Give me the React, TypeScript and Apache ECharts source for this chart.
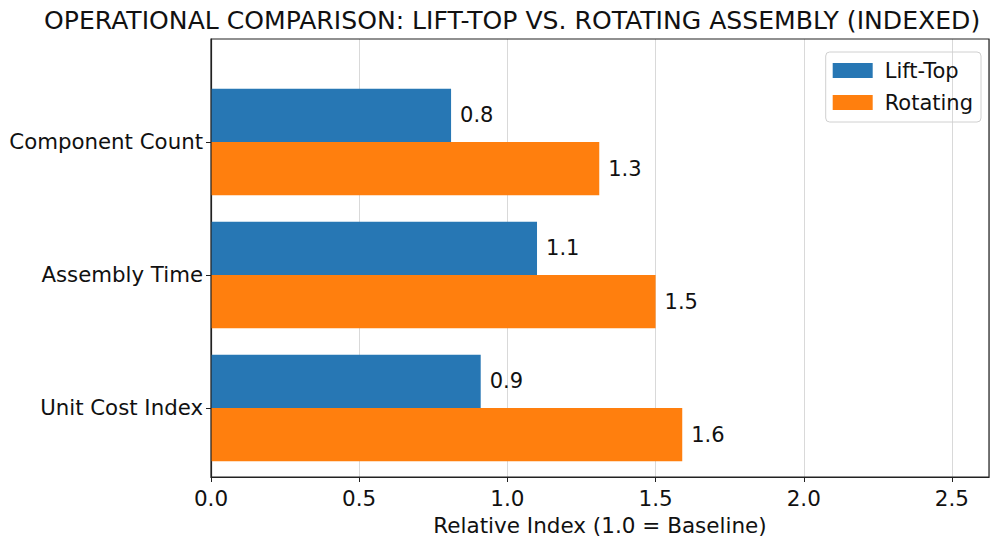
import React, { useEffect, useRef } from 'react';
import * as echarts from 'echarts';

const categories = ['Component Count', 'Assembly Time', 'Unit Cost Index'];
const seriesNames = ['Lift-Top', 'Rotating'];
const liftTop = [0.81, 1.1, 0.91];
const rotating = [1.31, 1.5, 1.59];
const xTicks = [0, 0.5, 1.0, 1.5, 2.0, 2.5];
const colors = ['#2777b4', '#ff7f0e'];

const FONT = '"DejaVu Sans", sans-serif';
const BAR_H = 0.4;
const FRAME = '#222';
const GRID = { left: 211, top: 39, right: 11, bottom: 68 };

const makeRender = (offsetIdx: number) => (params: any, api: any) => {
    const v = api.value(0);
    const i = api.value(1);
    const y0 = i - BAR_H + offsetIdx * BAR_H;
    const y1 = y0 + BAR_H;
    const a = api.coord([0, y0]);
    const b = api.coord([v, y1]);
    const top = Math.min(a[1], b[1]);
    const h = Math.abs(b[1] - a[1]);
    return {
        type: 'group',
        children: [
            {
                type: 'rect',
                shape: { x: a[0], y: top, width: b[0] - a[0], height: h },
                style: { fill: api.visual('color') },
            },
            {
                type: 'text',
                x: b[0] + 9,
                y: top + h / 2,
                style: {
                    text: v.toFixed(1),
                    fill: '#111',
                    font: `21px ${FONT}`,
                    verticalAlign: 'middle',
                    align: 'left',
                },
            },
        ],
    };
};

const App: React.FC = () => {
    const chartRef = useRef<HTMLDivElement>(null);

    useEffect(() => {
        if (!chartRef.current) return;
        const chart = echarts.init(chartRef.current, undefined, { renderer: 'svg' });

        const option: echarts.EChartsOption = {
            animation: false,
            backgroundColor: '#fff',
            title: {
                text: 'OPERATIONAL COMPARISON: LIFT-TOP VS. ROTATING ASSEMBLY (INDEXED)',
                left: 39,
                top: 3,
                textStyle: { fontFamily: FONT, fontSize: 25.1, fontWeight: 'normal', color: '#111' },
            },
            legend: {
                right: 19,
                top: 52,
                orient: 'vertical',
                icon: 'rect',
                itemWidth: 40,
                itemHeight: 15,
                itemGap: 11,
                padding: [8, 8, 9, 7],
                borderColor: '#d0d0d0',
                borderWidth: 1,
                borderRadius: 4,
                textStyle: { fontFamily: FONT, fontSize: 21, color: '#111', padding: [0, 0, 0, 7] },
                data: seriesNames,
            },
            grid: { ...GRID, show: false },
            graphic: [
                {
                    type: 'rect',
                    z: 100,
                    silent: true,
                    shape: { x: GRID.left, y: GRID.top, width: 1000 - GRID.left - GRID.right, height: 545 - GRID.top - GRID.bottom },
                    style: { fill: 'none', stroke: FRAME, lineWidth: 1.2 },
                },
            ],
            xAxis: {
                type: 'value',
                min: 0,
                max: 2.625,
                interval: 0.5,
                name: 'Relative Index (1.0 = Baseline)',
                nameLocation: 'middle',
                nameGap: 37,
                nameTextStyle: { fontFamily: FONT, fontSize: 21.5, color: '#111' },
                axisLine: { show: true, onZero: false, lineStyle: { color: FRAME, width: 1.2 } },
                axisTick: { show: true, length: 5, lineStyle: { color: FRAME } },
                axisLabel: {
                    fontFamily: FONT,
                    fontSize: 21.5,
                    color: '#111',
                    margin: 10,
                    showMaxLabel: false,
                    formatter: (v: number) => (xTicks.includes(v) ? v.toFixed(1) : ''),
                },
                splitLine: { show: true, lineStyle: { color: '#d9d9d9', width: 1 } },
            },
            yAxis: {
                type: 'value',
                inverse: true,
                min: -0.774,
                max: 2.519,
                axisLine: { show: true, onZero: false, lineStyle: { color: FRAME, width: 1.2 } },
                axisTick: { show: true, length: 5, customValues: [0, 1, 2], lineStyle: { color: FRAME } },
                axisLabel: {
                    customValues: [0, 1, 2],
                    fontFamily: FONT,
                    fontSize: 21.3,
                    color: '#111',
                    margin: 8,
                    formatter: (v: number) => categories[Math.round(v)] ?? '',
                },
                splitLine: { show: false },
            },
            series: [
                {
                    name: seriesNames[0],
                    type: 'custom',
                    itemStyle: { color: colors[0] },
                    encode: { x: 0, y: 1 },
                    renderItem: makeRender(0) as any,
                    data: liftTop.map((v, i) => [v, i]),
                },
                {
                    name: seriesNames[1],
                    type: 'custom',
                    itemStyle: { color: colors[1] },
                    encode: { x: 0, y: 1 },
                    renderItem: makeRender(1) as any,
                    data: rotating.map((v, i) => [v, i]),
                },
            ],
        };

        chart.setOption(option);
        return () => chart.dispose();
    }, []);

    return (
        <div
            ref={chartRef}
            style={{ position: 'fixed', left: 0, top: 0, width: 1000, height: 545 }}
        />
    );
};

export default App;
